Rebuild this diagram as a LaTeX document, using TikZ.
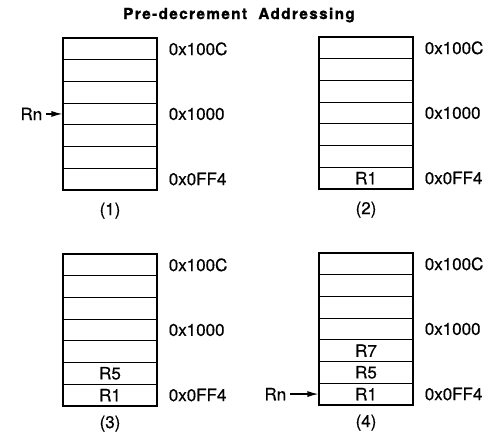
\documentclass[tikz,border=0pt]{standalone}
\usepackage{fontspec}
\setmainfont{TeX Gyre Heros}[FakeBold=0.5]
\newfontfamily\titlefont[LetterSpace=9,FakeBold=1.2]{TeX Gyre Heros Bold}
\usetikzlibrary{positioning,arrows.meta}

\begin{document}
\begin{tikzpicture}[x=1pt,y=-1pt,
  every node/.style={font=\fontsize{17}{20}\selectfont,inner sep=0pt},
  cell/.style={draw,line width=1.2pt,minimum width=94pt,minimum height=21.7pt},
  addr/.style={anchor=west},
  ptr/.style={-{Latex[length=11pt,width=6pt]},line width=1.2pt,shorten <=4pt}]
\useasboundingbox (0,0) rectangle (494,434);
\node[font=\titlefont\fontsize{15.3}{18}\selectfont] (title) at (239,15) {Pre-decrement\ \ Addressing};
% the four stacks
\foreach \p/\x/\y in {1/110/38,2/366/37,3/110/254,4/366/253}
  \foreach \r in {1,...,7}
    \node[cell] (p\p-\r) at (\x,{\y+\r*21.7-10.85}) {};
% (1)
\node[addr,right=11pt of p1-1] (a1top) {0x100C};
\node[addr,right=11pt of p1-4] (a1mid) {0x1000};
\node[addr,right=11pt of p1-7] (a1bot) {0x0FF4};
\node[below=12pt of p1-7] (cap1) {(1)};
\node[left=20pt of p1-4] (rn1) {Rn};
\draw[ptr] (rn1) -- (p1-4);
% (2)
\node at (p2-7) (r1b) {R1};
\node[addr,right=11pt of p2-1] (a2top) {0x100C};
\node[addr,right=11pt of p2-4] (a2mid) {0x1000};
\node[addr,right=11pt of p2-7] (a2bot) {0x0FF4};
\node[below=12pt of p2-7] (cap2) {(2)};
% (3)
\node at (p3-7) (r1c) {R1};
\node at (p3-6) (r5c) {R5};
\node[addr,right=11pt of p3-1] (a3top) {0x100C};
\node[addr,right=11pt of p3-4] (a3mid) {0x1000};
\node[addr,right=11pt of p3-7] (a3bot) {0x0FF4};
\node[below=9pt of p3-7] (cap3) {(3)};
% (4)
\node at (p4-7) (r1d) {R1};
\node at (p4-6) (r5d) {R5};
\node at (p4-5) (r7d) {R7};
\node[addr,right=11pt of p4-1] (a4top) {0x100C};
\node[addr,right=11pt of p4-4] (a4mid) {0x1000};
\node[addr,right=11pt of p4-7] (a4bot) {0x0FF4};
\node[below=9pt of p4-7] (cap4) {(4)};
\node[left=32pt of p4-7] (rn4) {Rn};
\draw[ptr] (rn4) -- (p4-7);
\end{tikzpicture}
\end{document}
